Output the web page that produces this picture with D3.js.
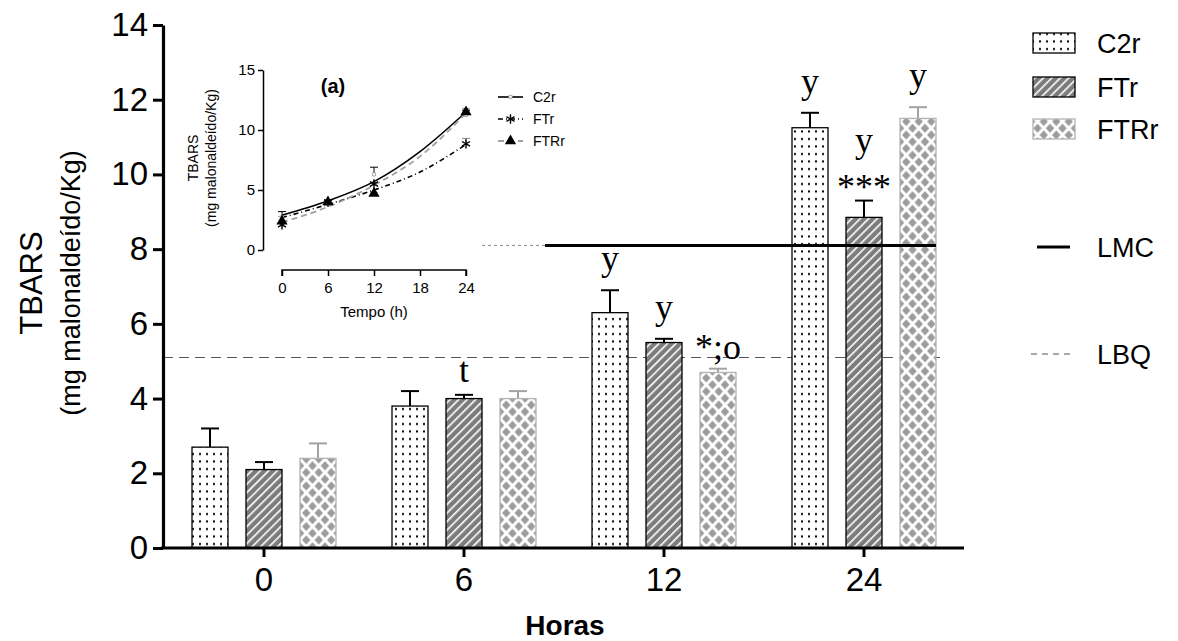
<!DOCTYPE html>
<html>
<head>
<meta charset="utf-8">
<script src="https://cdn.jsdelivr.net/npm/d3@7"></script>
<style>
  body { margin:0; background:#fff; }
  svg { display:block; font-family:"Liberation Sans", Arial, sans-serif; }
</style>
</head>
<body>
<svg id="chart" width="1178" height="641"></svg>
<script>
// data
const groups = ["0", "6", "12", "24"];
const series = ["C2r", "FTr", "FTRr"];
const c2rVals   = [2.7, 3.8, 6.3, 11.25];
const c2rErr    = [0.5, 0.4, 0.6, 0.4];
const ftrVals   = [2.1, 4.0, 5.5, 8.85];
const ftrErr    = [0.2, 0.1, 0.1, 0.45];
const ftrrVals  = [2.4, 4.0, 4.7, 11.5];
const ftrrErr   = [0.4, 0.2, 0.1, 0.3];
const lmcValue = 8.1;
const lbqValue = 5.1;
const yTicks = [0, 2, 4, 6, 8, 10, 12, 14];

// significance letters: [group, series, lines bottom-up]
const annGroup  = ["6",   "12",  "12",  "12",  "24",  "24",       "24"];
const annSeries = ["FTr", "C2r", "FTr", "FTRr","C2r", "FTr",      "FTRr"];
const annText   = [["t"], ["y"], ["y"], ["*;o"], ["y"], ["***", "y"], ["y"]];

// inset (a)
const insetHours = [0, 6, 12, 24];
const fitHours = [0, 6, 12, 18, 24];
const fitC2r  = [2.9, 4.1, 5.7, 8.2, 11.5];
const fitFTr  = [2.7, 3.8, 5.0, 6.5, 8.8];
const fitFTRr = [2.3, 3.6, 5.4, 7.8, 11.4];
const insetXTicks = [0, 6, 12, 18, 24];
const insetYTicks = [0, 5, 10, 15];

const vals = {C2r: c2rVals, FTr: ftrVals, FTRr: ftrrVals};
const errs = {C2r: c2rErr, FTr: ftrErr, FTRr: ftrrErr};

const svg = d3.select("#chart");
const defs = svg.append("defs");

// patterns
let pDots = defs.append("pattern").attr("id", "pDots").attr("patternUnits", "userSpaceOnUse")
  .attr("width", 7).attr("height", 7.5);
pDots.append("rect").attr("width", 7).attr("height", 7.5).attr("fill", "#fff");
pDots.append("rect").attr("x", 3).attr("y", 3).attr("width", 2).attr("height", 2).attr("fill", "#000");

let pHatch = defs.append("pattern").attr("id", "pHatch").attr("patternUnits", "userSpaceOnUse")
  .attr("width", 6).attr("height", 6).attr("patternTransform", "rotate(45)");
pHatch.append("rect").attr("width", 6).attr("height", 6).attr("fill", "#7c7c7c");
pHatch.append("rect").attr("x", 0).attr("y", 0).attr("width", 1.6).attr("height", 6).attr("fill", "#fff");

let pCross = defs.append("pattern").attr("id", "pCross").attr("patternUnits", "userSpaceOnUse")
  .attr("width", 12.5).attr("height", 13.5).attr("x", 0).attr("y", 0);
pCross.append("rect").attr("width", 12.5).attr("height", 13.5).attr("fill", "#9c9c9e");
pCross.append("path").attr("d", "M0,0L12.5,13.5M12.5,0L0,13.5").attr("stroke", "#fff").attr("stroke-width", 3);

const fills   = {C2r: "url(#pDots)", FTr: "url(#pHatch)", FTRr: "url(#pCross)"};
const borders = {C2r: "#000", FTr: "#000", FTRr: "#b4b4b4"};
const errCol  = {C2r: "#000", FTr: "#000", FTRr: "#a2a2a4"};

// scales
const x0 = d3.scaleBand().domain(groups).range([164, 964]).padding(0);
const x1 = d3.scaleBand().domain(series).range([-72, 72]).paddingInner(1/3).paddingOuter(0);
const y = d3.scaleLinear().domain([0, 14]).range([548, 25]);

// reference lines
svg.append("line")
  .attr("x1", 163).attr("x2", x0("24") + x0.bandwidth() / 2 + 72 + 4)
  .attr("y1", y(lbqValue)).attr("y2", y(lbqValue))
  .attr("stroke", "#555").attr("stroke-width", 1.2).attr("stroke-dasharray", "10,6");

// bars
const gBars = svg.append("g");
groups.forEach(function(g, gi) {
  series.forEach(function(s) {
    let cx = x0(g) + x0.bandwidth() / 2 + x1(s);
    let v = vals[s][gi], e = errs[s][gi];
    let mid = cx + x1.bandwidth() / 2;
    gBars.append("line").attr("x1", mid).attr("x2", mid)
      .attr("y1", y(v)).attr("y2", y(v + e)).attr("stroke", errCol[s]).attr("stroke-width", 2);
    gBars.append("line").attr("x1", mid - 9).attr("x2", mid + 9)
      .attr("y1", y(v + e)).attr("y2", y(v + e)).attr("stroke", errCol[s]).attr("stroke-width", 2);
    gBars.append("rect")
      .attr("x", cx).attr("y", y(v)).attr("width", x1.bandwidth()).attr("height", y(0) - y(v))
      .attr("fill", fills[s]).attr("stroke", borders[s]).attr("stroke-width", 1.3);
  });
});

// LMC line (partly hidden behind the inset)
const lmcEnd = x0("24") + x0.bandwidth() / 2 + 72;
svg.append("line").attr("x1", 482).attr("x2", 545)
  .attr("y1", y(lmcValue)).attr("y2", y(lmcValue))
  .attr("stroke", "#888").attr("stroke-width", 1).attr("stroke-dasharray", "3,3");
svg.append("line").attr("x1", 545).attr("x2", lmcEnd)
  .attr("y1", y(lmcValue)).attr("y2", y(lmcValue))
  .attr("stroke", "#000").attr("stroke-width", 3);

// significance letters
const lift = {"y": 20, "t": 13, "*;o": 10, "***": 2};
annText.forEach(function(lines, i) {
  let gi = groups.indexOf(annGroup[i]);
  let s = annSeries[i];
  let mid = x0(annGroup[i]) + x0.bandwidth() / 2 + x1(s) + x1.bandwidth() / 2;
  let top = y(vals[s][gi] + errs[s][gi]);
  let base = top - lift[lines[0]];
  lines.forEach(function(t, li) {
    svg.append("text").attr("x", mid).attr("y", base - li * 47)
      .attr("text-anchor", "middle")
      .style("font-family", "'Liberation Serif', 'Times New Roman', serif")
      .style("font-size", "36px").text(t);
  });
});

// axes
const yAxis = svg.append("g").attr("transform", "translate(163,0)")
  .call(d3.axisLeft(y).tickValues(yTicks).tickSize(10).tickSizeOuter(0).tickPadding(5));
const xAxis = svg.append("g").attr("transform", "translate(0,548)")
  .call(d3.axisBottom(x0).tickSize(9).tickSizeOuter(0).tickPadding(11));
[yAxis, xAxis].forEach(function(a) {
  a.select(".domain").attr("stroke-width", 3.2);
  a.selectAll(".tick line").attr("stroke-width", 3);
  a.selectAll("text").style("font-size", "33px").style("font-family", "'Liberation Sans', Arial, sans-serif").attr("fill", "#000");
});
xAxis.select(".domain").attr("d", "M161,0H964");

svg.append("text").attr("x", 565).attr("y", 635).attr("text-anchor", "middle")
  .style("font-size", "28px").style("font-weight", "bold").text("Horas");
svg.append("text").attr("transform", "translate(42,283) rotate(-90)").attr("text-anchor", "middle")
  .style("font-size", "31px").text("TBARS");
svg.append("text").attr("transform", "translate(80,283) rotate(-90)").attr("text-anchor", "middle")
  .style("font-size", "27px").text("(mg malonaldeído/Kg)");

// legend
const legY = [43, 87, 129];
series.forEach(function(s, i) {
  svg.append("rect").attr("x", 1033).attr("y", legY[i] - 10).attr("width", 42).attr("height", 20)
    .attr("fill", fills[s]).attr("stroke", borders[s]).attr("stroke-width", 1.3);
  svg.append("text").attr("x", 1097).attr("y", legY[i] + 10).style("font-size", "27px").text(s);
});
svg.append("line").attr("x1", 1037).attr("x2", 1070).attr("y1", 247).attr("y2", 247)
  .attr("stroke", "#000").attr("stroke-width", 3);
svg.append("text").attr("x", 1097).attr("y", 257).style("font-size", "27px").text("LMC");
svg.append("line").attr("x1", 1031).attr("x2", 1072).attr("y1", 354).attr("y2", 354)
  .attr("stroke", "#555").attr("stroke-width", 1.2).attr("stroke-dasharray", "6,5");
svg.append("text").attr("x", 1097).attr("y", 364).style("font-size", "27px").text("LBQ");

// ---- inset (a) ----
const ix = d3.scaleLinear().domain([0, 24]).range([282, 466]);
const iy = d3.scaleLinear().domain([0, 15]).range([250, 70]);
const inset = svg.append("g");

const iyAxis = inset.append("g").attr("transform", "translate(263,0)")
  .call(d3.axisLeft(iy).tickValues(insetYTicks).tickSize(5).tickSizeOuter(0).tickPadding(3));
const ixAxis = inset.append("g").attr("transform", "translate(0,270)")
  .call(d3.axisBottom(ix).tickValues(insetXTicks).tickSize(6).tickSizeOuter(0).tickPadding(6));
[iyAxis, ixAxis].forEach(function(a) {
  a.select(".domain").attr("stroke-width", 1.5);
  a.selectAll(".tick line").attr("stroke-width", 1.5);
  a.selectAll("text").style("font-size", "15px").style("font-family", "'Liberation Sans', Arial, sans-serif").attr("fill", "#000");
});
ixAxis.select(".domain").attr("d", "M282,6V0H466V6");

inset.append("text").attr("x", 374).attr("y", 317).attr("text-anchor", "middle")
  .style("font-size", "15px").text("Tempo (h)");
inset.append("text").attr("transform", "translate(198,158) rotate(-90)").attr("text-anchor", "middle")
  .style("font-size", "14px").text("TBARS");
inset.append("text").attr("transform", "translate(216,158) rotate(-90)").attr("text-anchor", "middle")
  .style("font-size", "14px").text("(mg malonaldeído/Kg)");
inset.append("text").attr("x", 333).attr("y", 93).attr("text-anchor", "middle")
  .style("font-size", "20px").style("font-weight", "bold").text("(a)");

const fitSeries = [
  {name: "C2r",  vals: fitC2r,  color: "#000",    dash: null,      width: 1.6},
  {name: "FTr",  vals: fitFTr,  color: "#000",    dash: "5,3,1,3", width: 1.6},
  {name: "FTRr", vals: fitFTRr, color: "#a0a0a0", dash: "6,4",     width: 1.8}
];
const fitLine = d3.line().x(function(d) { return ix(d[0]); }).y(function(d) { return iy(d[1]); })
  .curve(d3.curveMonotoneX);

// error bars in inset
series.forEach(function(s) {
  insetHours.forEach(function(h, i) {
    let v = vals[s][i], e = errs[s][i];
    inset.append("line").attr("x1", ix(h)).attr("x2", ix(h)).attr("y1", iy(v)).attr("y2", iy(v + e))
      .attr("stroke", s === "FTr" ? "#888" : errCol[s]).attr("stroke-width", 1);
    inset.append("line").attr("x1", ix(h) - 4).attr("x2", ix(h) + 4).attr("y1", iy(v + e)).attr("y2", iy(v + e))
      .attr("stroke", s === "FTr" ? "#888" : errCol[s]).attr("stroke-width", 1);
  });
});

fitSeries.forEach(function(f) {
  inset.append("path").datum(fitHours.map(function(h, i) { return [h, f.vals[i]]; }))
    .attr("d", fitLine).attr("fill", "none").attr("stroke", f.color)
    .attr("stroke-width", f.width).attr("stroke-dasharray", f.dash);
});

const symAst = d3.symbol().type(d3.symbolAsterisk).size(60);
const symTri = d3.symbol().type(d3.symbolTriangle).size(55);
const symSq = d3.symbol().type(d3.symbolSquare).size(10);
insetHours.forEach(function(h, i) {
  inset.append("path").attr("d", symSq()).attr("transform", "translate(" + ix(h) + "," + iy(c2rVals[i]) + ")")
    .attr("fill", "#fff").attr("stroke", "#999").attr("stroke-width", 0.8);
  inset.append("path").attr("d", symAst()).attr("transform", "translate(" + ix(h) + "," + iy(ftrVals[i]) + ")")
    .attr("fill", "none").attr("stroke", "#000").attr("stroke-width", 1.4);
  inset.append("path").attr("d", symTri()).attr("transform", "translate(" + ix(h) + "," + iy(ftrrVals[i]) + ")")
    .attr("fill", "#000");
});

// inset legend
const ilegY = [97, 119, 141];
fitSeries.forEach(function(f, i) {
  inset.append("line").attr("x1", 498).attr("x2", 523).attr("y1", ilegY[i]).attr("y2", ilegY[i])
    .attr("stroke", f.color).attr("stroke-width", f.width).attr("stroke-dasharray", f.dash);
  inset.append("text").attr("x", 533).attr("y", ilegY[i] + 5).style("font-size", "14px").text(f.name);
});
inset.append("path").attr("d", symSq()).attr("transform", "translate(510.5," + ilegY[0] + ")")
  .attr("fill", "#fff").attr("stroke", "#999").attr("stroke-width", 0.8);
inset.append("path").attr("d", symAst()).attr("transform", "translate(510.5," + ilegY[1] + ")")
  .attr("fill", "none").attr("stroke", "#000").attr("stroke-width", 1.4);
inset.append("path").attr("d", symTri()).attr("transform", "translate(510.5," + ilegY[2] + ")")
  .attr("fill", "#000");
</script>
</body>
</html>
